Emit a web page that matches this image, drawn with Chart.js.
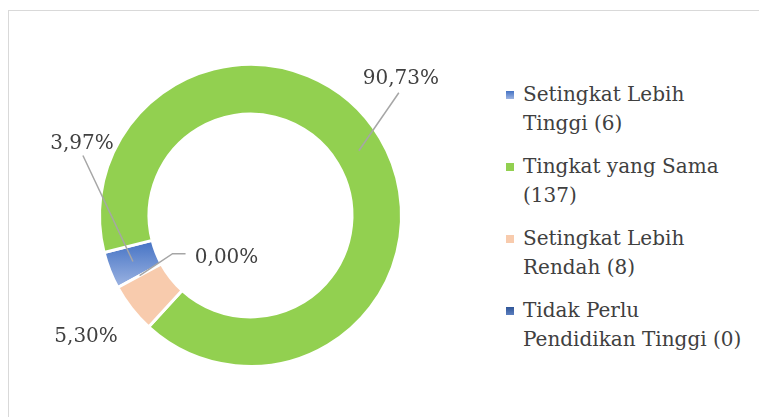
<!DOCTYPE html>
<html>
<head>
<meta charset="utf-8">
<script src="https://cdn.jsdelivr.net/npm/chart.js@4.4.1/dist/chart.umd.min.js"></script>
<style>
  body { margin: 0; width: 759px; height: 417px; overflow: hidden; background: #fff; font-family: 'DejaVu Serif', serif; }
  #frame { position: absolute; left: 8px; top: 10px; width: 800px; height: 500px; border: 1px solid #d9d9d9; }
  #wrap { position: absolute; left: 0; top: 0; width: 500px; height: 417px; }
  #legend { position: absolute; left: 506px; top: 80px; width: 240px; color: #404040; font-size: 20px; line-height: 28.5px; }
  .item { position: relative; padding-left: 17px; margin-bottom: 15px; }
  .box { position: absolute; left: 0; top: 11px; width: 8px; height: 8px; }
</style>
</head>
<body>
<div id="frame"></div>
<div id="wrap"><canvas id="donut"></canvas></div>
<div id="legend"></div>
<script>
const categories = ['Setingkat Lebih Tinggi', 'Tingkat yang Sama', 'Setingkat Lebih Rendah', 'Tidak Perlu Pendidikan Tinggi']
const counts = [6, 137, 8, 0]
const colorsTop = ['#4472c4', '#92d050', '#f8cbad', '#2f5597']
const colorsBottom = ['#9db4e2', '#92d050', '#f8cbad', '#5b7fc0']

const total = counts.reduce((a, b) => a + b, 0)
const percents = counts.map(c => (c / total * 100).toFixed(2).replace('.', ','))

const rotation = 241.5
const cutout = 0.672
const borderW = 3
const textColor = '#404040'
const fontSpec = '20px "DejaVu Serif", serif'

// label offsets from the ring midpoint of each slice, plus leader line bends
const labelPlace = [
    { dx: -51, dy: -118, leader: [[-50, -106]] },
    { dx: 42, dy: -72, leader: [[40, -58]] },
    { dx: -65, dy: 44, leader: [] },
    { dx: 87, dy: -18, leader: [[33, -22], [46, -22]] },
]

function sliceGradient(chart, i) {
    const a = chart.chartArea
    if (!a) return colorsTop[i]
    const cx = (a.left + a.right) / 2, cy = (a.top + a.bottom) / 2
    const R = (Math.min(a.right - a.left, a.bottom - a.top) - borderW) / 2
    const r = R * cutout
    let start = (rotation - 90) * Math.PI / 180
    for (let k = 0; k < i; k++) start += counts[k] / total * 2 * Math.PI
    const end = start + counts[i] / total * 2 * Math.PI
    const ys = [start, end].flatMap(t => [cy + R * Math.sin(t), cy + r * Math.sin(t)])
    const y0 = Math.min(...ys), y1 = Math.max(...ys)
    if (y1 - y0 < 1) return colorsTop[i]
    const g = chart.ctx.createLinearGradient(0, y0, 0, y1)
    g.addColorStop(0, colorsTop[i])
    g.addColorStop(1, colorsBottom[i])
    return g
}

const labelPlugin = {
    id: 'pctLabels',
    afterDatasetsDraw(chart) {
        const ctx = chart.ctx
        const arcs = chart.getDatasetMeta(0).data
        ctx.save()
        ctx.font = fontSpec
        ctx.textAlign = 'center'
        ctx.textBaseline = 'middle'
        arcs.forEach((arc, i) => {
            const p = arc.getProps(['x', 'y', 'startAngle', 'endAngle', 'innerRadius', 'outerRadius'], true)
            const mid = (p.startAngle + p.endAngle) / 2
            const rr = (p.innerRadius + p.outerRadius) / 2
            const ax = p.x + rr * Math.cos(mid), ay = p.y + rr * Math.sin(mid)
            const place = labelPlace[i]
            if (place.leader.length) {
                ctx.strokeStyle = '#a6a6a6'
                ctx.lineWidth = 1.5
                ctx.beginPath()
                ctx.moveTo(ax, ay)
                place.leader.forEach(pt => ctx.lineTo(ax + pt[0], ay + pt[1]))
                ctx.stroke()
            }
            ctx.fillStyle = textColor
            ctx.fillText(percents[i] + '%', ax + place.dx, ay + place.dy)
        })
        ctx.restore()
    }
}

const chart = new Chart(document.querySelector('#donut'), {
    type: 'doughnut',
    data: {
        labels: categories,
        datasets: [{
            data: counts,
            backgroundColor: (c) => sliceGradient(c.chart, c.dataIndex),
            borderColor: '#ffffff',
            borderWidth: borderW,
        }]
    },
    options: {
        responsive: true,
        maintainAspectRatio: false,
        animation: false,
        rotation: rotation,
        cutout: (cutout * 100) + '%',
        layout: { padding: { left: 98, right: 97, top: 63, bottom: 49 } },
        plugins: {
            legend: { display: false },
            tooltip: { enabled: false },
        },
    },
    plugins: [labelPlugin]
})

const legend = document.querySelector('#legend')
categories.forEach((name, i) => {
    const item = document.createElement('div')
    item.className = 'item'
    const box = document.createElement('span')
    box.className = 'box'
    box.style.background = 'linear-gradient(' + colorsTop[i] + ',' + colorsBottom[i] + ')'
    item.appendChild(box)
    item.appendChild(document.createTextNode(name + ' (' + counts[i] + ')'))
    legend.appendChild(item)
})
</script>
</body>
</html>
